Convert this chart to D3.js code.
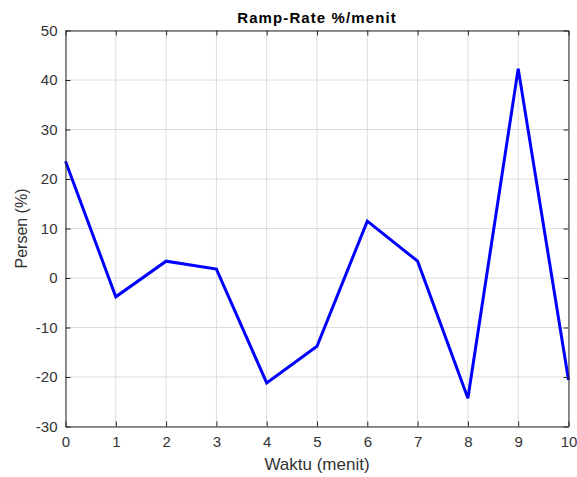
<!DOCTYPE html>
<html><head><meta charset="utf-8">
<script src="https://cdn.jsdelivr.net/npm/d3@7"></script>
<style>body{margin:0;background:#fff}svg{display:block}</style>
</head><body>
<script>
const xValues = [0,1,2,3,4,5,6,7,8,9,10];
const yValues = [23.6,-3.8,3.4,1.8,-21.2,-13.8,11.5,3.4,-24.3,42.3,-20.6];
const xTicks = [0,1,2,3,4,5,6,7,8,9,10];
const yTicks = [-30,-20,-10,0,10,20,30,40,50];
const titleText = "Ramp-Rate %/menit";
const xLabel = "Waktu (menit)";
const yLabel = "Persen (%)";

const W=577,H=477;
const m={l:65.5,r:8.5,t:30.5,b:50.5};
const svg=d3.select("body").append("svg").attr("width",W).attr("height",H);
const x=d3.scaleLinear().domain([0,10]).range([m.l,W-m.r]);
const y=d3.scaleLinear().domain([-30,50]).range([H-m.b,m.t]);
const font="Liberation Sans, Arial, Helvetica, sans-serif";
const axCol="#262626";
const txtCol="#333333";

// grid
const g=svg.append("g");
g.selectAll(".gx").data(xTicks).join("line").attr("x1",d=>x(d)).attr("x2",d=>x(d))
 .attr("y1",m.t).attr("y2",H-m.b).attr("stroke","#dcdcdc").attr("stroke-width",1);
g.selectAll(".gy").data(yTicks).join("line").attr("y1",d=>y(d)).attr("y2",d=>y(d))
 .attr("x1",m.l).attr("x2",W-m.r).attr("stroke","#dcdcdc").attr("stroke-width",1);

// line
svg.append("path").datum(xValues.map((v,i)=>[v,yValues[i]]))
 .attr("d",d3.line().x(d=>x(d[0])).y(d=>y(d[1])))
 .attr("fill","none").attr("stroke","#0000ff").attr("stroke-width",3).attr("stroke-linejoin","miter");

// axes
const tl=5;
const fmt=d=>String(d);
const xb=svg.append("g").attr("transform",`translate(0,${H-m.b})`)
 .call(d3.axisBottom(x).tickValues(xTicks).tickSizeInner(-tl).tickSizeOuter(0).tickPadding(10).tickFormat(fmt));
const xt=svg.append("g").attr("transform",`translate(0,${m.t})`)
 .call(d3.axisTop(x).tickValues(xTicks).tickSizeInner(-tl).tickSizeOuter(0).tickFormat(""));
const yl=svg.append("g").attr("transform",`translate(${m.l},0)`)
 .call(d3.axisLeft(y).tickValues(yTicks).tickSizeInner(-tl).tickSizeOuter(0).tickPadding(8).tickFormat(fmt));
const yr=svg.append("g").attr("transform",`translate(${W-m.r},0)`)
 .call(d3.axisRight(y).tickValues(yTicks).tickSizeInner(-tl).tickSizeOuter(0).tickFormat(""));
[xb,xt,yl,yr].forEach(a=>{
  a.selectAll("path,line").attr("stroke",axCol).attr("stroke-width",1);
  a.selectAll("text").attr("fill",txtCol).style("font-family",font).style("font-size","15px");
});

svg.append("text").attr("x",(m.l+W-m.r)/2).attr("y",23).attr("text-anchor","middle")
 .style("font-family",font).style("font-size","15px").style("font-weight","bold").style("letter-spacing","1.1px")
 .attr("fill","#000").text(titleText);
svg.append("text").attr("x",(m.l+W-m.r)/2).attr("y",470).attr("text-anchor","middle")
 .style("font-family",font).style("font-size","17px").attr("fill",txtCol).text(xLabel);
svg.append("text").attr("transform",`translate(27,${(m.t+H-m.b)/2}) rotate(-90)`).attr("text-anchor","middle")
 .style("font-family",font).style("font-size","16px").attr("fill",txtCol).text(yLabel);
</script>
</body></html>
